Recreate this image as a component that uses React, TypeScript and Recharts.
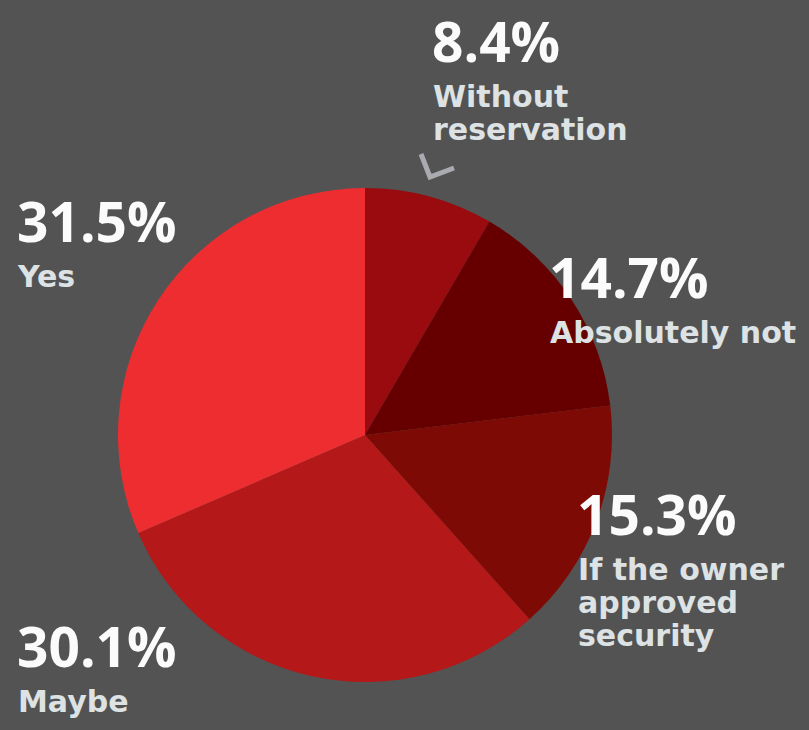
import { Cell, Pie, PieChart } from "recharts";

const categories = [
  "Without reservation",
  "Absolutely not",
  "If the owner approved security",
  "Maybe",
  "Yes",
];
const shares = [8.4, 14.7, 15.3, 30.1, 31.5];
const labelLines = [
  ["Without", "reservation"],
  ["Absolutely not"],
  ["If the owner", "approved", "security"],
  ["Maybe"],
  ["Yes"],
];

const colors = ["#990b0f", "#660000", "#7e0a05", "#b41818", "#ee2d30"];
// where each label block sits (left x, baseline of the percentage)
const labelSpots = [
  { x: 432, y: 62 },
  { x: 549, y: 298 },
  { x: 577, y: 535 },
  { x: 17, y: 667 },
  { x: 17, y: 242 },
];

const data = categories.map((name, i) => ({ name, value: shares[i] }));

const PCT_FONT = "'Open Sans', 'Noto Sans', sans-serif";
const CAT_FONT = "'DejaVu Sans', 'Noto Sans', sans-serif";

const renderLabel = (props: any) => {
  const i = props.index;
  const spot = labelSpots[i];
  return (
    <g key={`lbl-${i}`}>
      {i === 0 && (
        <polyline
          points="421,154 430,177 454,168"
          fill="none"
          stroke="#a9abb0"
          strokeWidth={5}
        />
      )}
      <text
        x={spot.x}
        y={spot.y}
        fill="#fbfbfb"
        fontFamily={PCT_FONT}
        fontWeight={700}
        fontSize={55}
      >
        {shares[i].toFixed(1)}%
      </text>
      {labelLines[i].map((line, j) => (
        <text
          key={j}
          x={spot.x + 1}
          y={spot.y + 45 + j * 33}
          fill="#dde2e4"
          fontFamily={CAT_FONT}
          fontWeight={700}
          fontSize={30}
        >
          {line}
        </text>
      ))}
    </g>
  );
};

export default function App() {
  return (
    <div
      style={{
        position: "absolute",
        left: 0,
        top: 0,
        width: 809,
        height: 730,
        background: "#535353",
      }}
    >
      <PieChart
        width={809}
        height={730}
        margin={{ top: 0, right: 0, bottom: 0, left: 0 }}
      >
        <Pie
          data={data}
          dataKey="value"
          nameKey="name"
          cx={365}
          cy={435}
          outerRadius={247}
          startAngle={90}
          endAngle={-270}
          stroke="none"
          label={renderLabel}
          labelLine={false}
          isAnimationActive={false}
        >
          {data.map((d, i) => (
            <Cell key={d.name} fill={colors[i]} />
          ))}
        </Pie>
      </PieChart>
    </div>
  );
}
